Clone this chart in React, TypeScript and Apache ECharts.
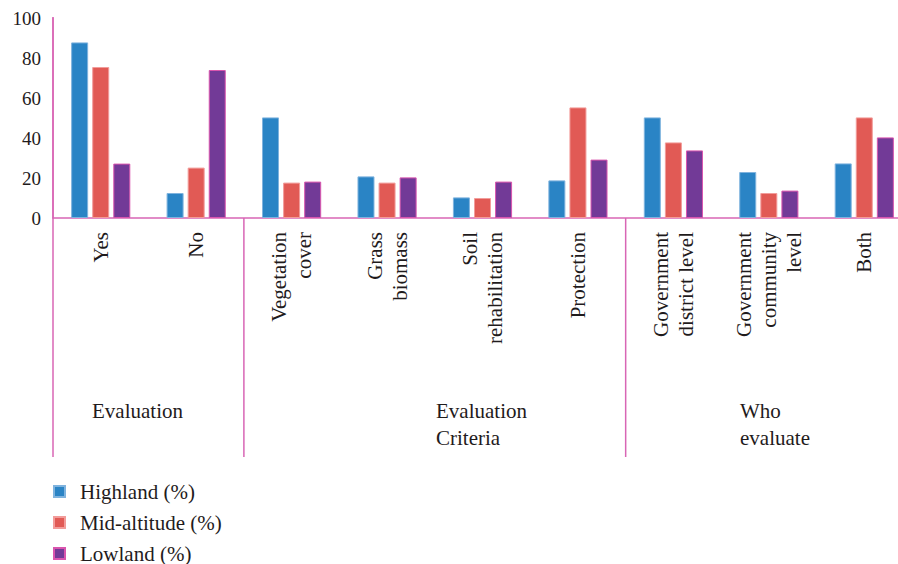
import React, { useEffect, useRef } from "react";
import * as echarts from "echarts";

const categories = [
  "Yes",
  "No",
  "Vegetation\ncover",
  "Grass\nbiomass",
  "Soil\nrehabilitation",
  "Protection",
  "Government\ndistrict level",
  "Government\ncommunity\nlevel",
  "Both",
];
const seriesNames = ["Highland (%)", "Mid-altitude (%)", "Lowland (%)"];
const highland = [87.8, 12.5, 50.3, 20.8, 10.3, 18.8, 50.3, 23, 27.3];
const midAltitude = [75.5, 25.2, 17.7, 17.7, 10, 55.3, 37.8, 12.5, 50.3];
const lowland = [27.2, 74, 18.2, 20.3, 18.2, 29.2, 33.8, 13.7, 40.3];
const yTicks = [0, 20, 40, 60, 80, 100];
const groupLabels = ["Evaluation", "Evaluation\nCriteria", "Who\nevaluate"];
// index of the first category after each separator
const groupBreaks = [2, 6];

const FONT = "Liberation Serif";
const TEXT = "#1f1b1c";
const PINK = "#d866b5";
const COLORS = ["#2a84c5", "#e15a55", "#723a97"];
const BORDERS = ["#7fb3de", "#f29c9a", "#d955ae"];

export default function App() {
  const ref = useRef<HTMLDivElement>(null);
  useEffect(() => {
    if (!ref.current) return;
    const chart = echarts.init(ref.current, undefined, { renderer: "svg" });
    const data = [highland, midAltitude, lowland];
    chart.setOption({
      animation: false,
      textStyle: { fontFamily: FONT },
      grid: {
        left: 53,
        width: 859,
        top: 18,
        height: 200,
        containLabel: false,
        outerBoundsMode: "none",
      },
      legend: {
        orient: "vertical",
        left: 53,
        top: 481,
        padding: 0,
        itemWidth: 11,
        itemHeight: 11,
        itemGap: 10,
        icon: "rect",
        textStyle: { fontFamily: FONT, fontSize: 21, color: TEXT, lineHeight: 20, padding: [0, 0, 0, 10] },
        data: seriesNames,
      },
      xAxis: {
        type: "category",
        data: categories,
        axisLine: { lineStyle: { color: PINK, width: 1.5 } },
        axisTick: { show: false },
        axisLabel: {
          interval: 0,
          rotate: 90,
          margin: 14,
          fontFamily: FONT,
          fontSize: 21,
          color: TEXT,
          lineHeight: 25,
        },
      },
      yAxis: {
        type: "value",
        min: yTicks[0],
        max: yTicks[yTicks.length - 1],
        interval: yTicks[1] - yTicks[0],
        axisLine: { show: true, lineStyle: { color: PINK, width: 1.5 } },
        axisTick: { show: false },
        splitLine: { show: false },
        axisLabel: { fontFamily: FONT, fontSize: 19, color: TEXT, margin: 12 },
      },
      series: seriesNames.map((name, i) => ({
        name,
        type: "bar",
        data: data[i],
        barWidth: 17,
        barGap: "24%",
        itemStyle: { color: COLORS[i], borderColor: BORDERS[i], borderWidth: 1 },
      })),
    });

    const base = chart.convertToPixel({ gridIndex: 0 }, [0, 0]) as number[];
    const top = chart.convertToPixel({ yAxisIndex: 0 }, 100) as number;
    const bottomY = 457;
    const px = (i: number) => chart.convertToPixel({ xAxisIndex: 0 }, i) as number;
    const lines: any[] = [
      {
        type: "line",
        shape: { x1: 53, y1: top - 1, x2: 53, y2: bottomY },
        style: { stroke: PINK, lineWidth: 1.5 },
      },
    ];
    groupBreaks.forEach((b) => {
      const x = (px(b - 1) + px(b)) / 2;
      lines.push({
        type: "line",
        shape: { x1: x, y1: base[1], x2: x, y2: bottomY },
        style: { stroke: PINK, lineWidth: 1.5 },
      });
    });
    const labelX = [92, 436, 740];
    const texts = groupLabels.map((t, i) => ({
      type: "text",
      x: labelX[i],
      y: 397,
      style: {
        text: t,
        fill: TEXT,
        font: `21px "${FONT}"`,
        lineHeight: 27,
        verticalAlign: "top",
        align: "left",
      },
    }));
    chart.setOption({ graphic: [...lines, ...texts] });

    return () => chart.dispose();
  }, []);
  return (
    <div
      ref={ref}
      style={{ position: "absolute", left: 0, top: 0, width: 898, height: 564, background: "#fff" }}
    />
  );
}
